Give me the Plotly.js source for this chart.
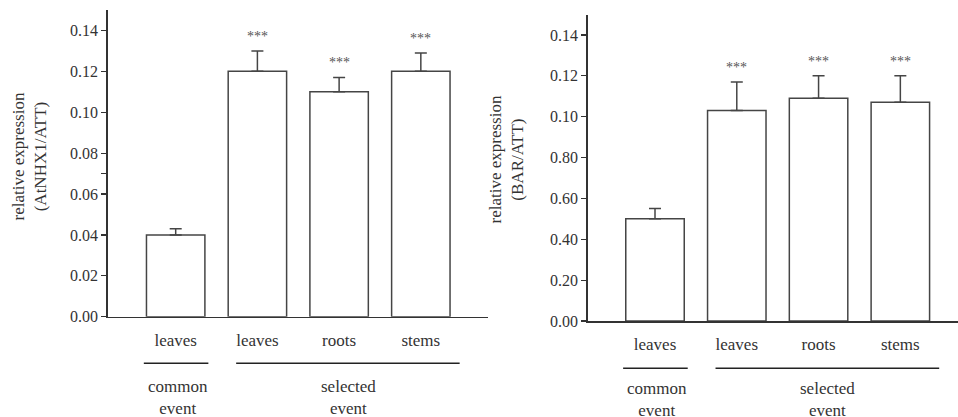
<!DOCTYPE html>
<html>
<head>
<meta charset="utf-8">
<script src="https://cdn.plot.ly/plotly-3.0.1.min.js"></script>
<style>html,body{margin:0;padding:0;background:#fff}#chart{width:958px;height:417px}</style>
</head>
<body>
<div id="chart"></div>
<script>
// ---- data ----
const categories = ["leaves", "leaves", "roots", "stems"];
const groups = ["common<br>event", "selected<br>event"];

const nhxValues = [0.040, 0.120, 0.110, 0.120];
const nhxErrors = [0.003, 0.010, 0.007, 0.009];
const nhxStars  = ["", "***", "***", "***"];

const barValues = [0.050, 0.103, 0.109, 0.107];
const barErrors = [0.005, 0.014, 0.011, 0.013];
const barStars  = ["", "***", "***", "***"];

const leftTickVals  = [0, 0.02, 0.04, 0.06, 0.07, 0.08, 0.10, 0.12, 0.14];
const leftTickText  = ["0.00", "0.02", "0.04", "0.06", "", "0.08", "0.10", "0.12", "0.14"];
const rightTickVals = [0, 0.02, 0.04, 0.06, 0.08, 0.10, 0.12, 0.14];
const rightTickText = ["0.00", "0.20", "0.40", "0.60", "0.80", "0.10", "0.12", "0.14"];

const leftTitle  = "relative expression<br>(AtNHX1/ATT)";
const rightTitle = "relative expression<br>(BAR/ATT)";

// ---- styling ----
const W = 958, H = 417;
const FONT = "'Liberation Serif', 'DejaVu Serif', 'Times New Roman', serif";
const INK = "#333333";
const idx = categories.map((_, i) => i);

function barTrace(vals, errs, xa, ya) {
  return {
    type: "bar", x: idx, y: vals, xaxis: xa, yaxis: ya,
    width: 0.715,
    marker: {color: "#ffffff", line: {color: "#454545", width: 1.5}},
    error_y: {type: "data", symmetric: false, array: errs, arrayminus: errs.map(() => 0),
              color: "#454545", thickness: 1.5, width: 6},
    showlegend: false, hoverinfo: "y"
  };
}

const data = [
  barTrace(nhxValues, nhxErrors, "x", "y"),
  barTrace(barValues, barErrors, "x2", "y2")
];

function xAxis(domain, range, anchor) {
  return {
    domain: domain, range: range, anchor: anchor,
    tickmode: "array", tickvals: idx, ticktext: categories,
    ticks: "outside", ticklen: 7, tickcolor: "rgba(0,0,0,0)",
    showline: true, linecolor: "#333", linewidth: 1.5,
    showgrid: false, zeroline: false,
    tickfont: {family: FONT, size: 17, color: INK}, fixedrange: true
  };
}
function yAxis(domain, tv, tt, anchor) {
  return {
    domain: domain, range: [0, 0.15], anchor: anchor,
    tickmode: "array", tickvals: tv, ticktext: tt,
    ticks: "outside", ticklen: 5, tickwidth: 1.2, tickcolor: "#333",
    showline: true, linecolor: "#333", linewidth: 1.5,
    showgrid: false, zeroline: false,
    tickfont: {family: FONT, size: 16, color: INK}, fixedrange: true
  };
}

const px = v => v / W;
const py = v => (H - v) / H;

const layout = {
  width: W, height: H,
  margin: {l: 0, r: 0, t: 0, b: 0},
  paper_bgcolor: "#fff", plot_bgcolor: "#fff",
  font: {family: FONT, color: INK},
  xaxis:  xAxis([px(107.7), px(488)], [-0.832, 3.822], "y"),
  yaxis:  yAxis([py(316.7), py(10)], leftTickVals, leftTickText, "x"),
  xaxis2: xAxis([px(587.7), px(958)], [-0.823, 3.705], "y2"),
  yaxis2: yAxis([py(321), py(14.5)], rightTickVals, rightTickText, "x2"),
  shapes: [],
  annotations: []
};

// group underline shapes
function groupLines(xref, yv) {
  layout.shapes.push(
    {type: "line", xref: xref, yref: "paper", x0: -0.39, x1: 0.40, y0: yv, y1: yv, line: {color: "#222", width: 1.5}},
    {type: "line", xref: xref, yref: "paper", x0: 0.74, x1: 3.475, y0: yv, y1: yv, line: {color: "#222", width: 1.5}}
  );
}
groupLines("x", py(363.3));
groupLines("x2", py(368.3));

function groupLabels(xref, yv) {
  layout.annotations.push(
    {xref: xref, yref: "paper", x: 0.03, y: yv, text: groups[0], showarrow: false, yanchor: "top",
     font: {family: FONT, size: 17, color: INK}},
    {xref: xref, yref: "paper", x: 2.11, y: yv, text: groups[1], showarrow: false, yanchor: "top",
     font: {family: FONT, size: 17, color: INK}}
  );
}
groupLabels("x", py(375));
groupLabels("x2", py(376.5));

function stars(xref, yref, vals, errs, st) {
  st.forEach((s, i) => {
    if (!s) return;
    layout.annotations.push({xref: xref, yref: yref, x: i, y: vals[i] + errs[i], text: s,
      showarrow: false, yanchor: "bottom", yshift: 5,
      font: {family: FONT, size: 14, color: "#555"}});
  });
}
stars("x", "y", nhxValues, nhxErrors, nhxStars);
stars("x2", "y2", barValues, barErrors, barStars);

// y titles
layout.annotations.push(
  {xref: "paper", yref: "paper", x: px(29), y: py(156.5), text: leftTitle, textangle: -90,
   showarrow: false, xanchor: "center", yanchor: "middle", font: {family: FONT, size: 17, color: INK}},
  {xref: "paper", yref: "paper", x: px(506.5), y: py(160), text: rightTitle, textangle: -90,
   showarrow: false, xanchor: "center", yanchor: "middle", font: {family: FONT, size: 17, color: INK}}
);

Plotly.newPlot("chart", data, layout, {displayModeBar: false, staticPlot: true});
</script>
</body>
</html>
